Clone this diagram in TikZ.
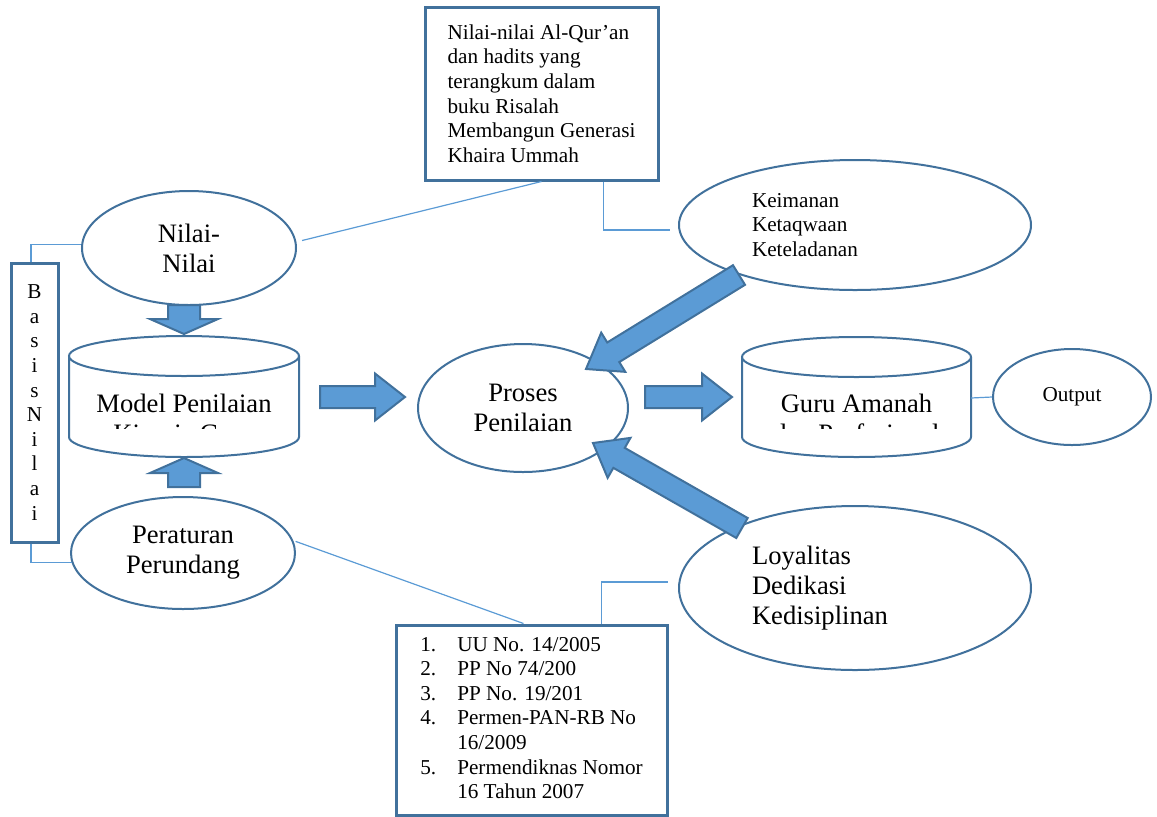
\documentclass[tikz,border=0pt]{standalone}
\usepackage{fontspec}
\setmainfont{Liberation Serif}
\usetikzlibrary{calc,shapes.geometric}
\definecolor{wblue}{RGB}{65,113,156}
\definecolor{wfill}{RGB}{91,155,213}
\definecolor{wline}{RGB}{91,155,213}
\newcommand\bigtxt{\fontsize{13.3}{15}\selectfont}
\newcommand\smalltxt{\fontsize{10.6}{12.3}\selectfont}
% tail, tip, shaft half width, head half width, head length
\newcommand\fatarrow[5]{%
  \coordinate (fah) at ($(#2)!#5!(#1)$);
  \path[fat] ($(#1)!#3!90:(#2)$) -- ($(fah)!#3!90:(#2)$) -- ($(fah)!#4!90:(#2)$)
    -- (#2) -- ($(fah)!#4!-90:(#2)$) -- ($(fah)!#3!-90:(#2)$) -- ($(#1)!#3!-90:(#2)$) -- cycle;}
\tikzset{
  oval/.style  ={ellipse, draw=wblue, line width=1pt, fill=white, inner sep=0pt,
                 align=center, font=\bigtxt},
  txtbox/.style={rectangle, draw=wblue, line width=1.5pt, fill=white, inner sep=0pt,
                 align=left, font=\smalltxt},
  cyl/.style   ={draw=wblue, line width=1pt, fill=white},
  ln/.style    ={draw=wline, line width=0.6pt},
  fat/.style   ={draw=wblue, line width=1pt, fill=wfill, line join=miter}
}
\begin{document}
\begin{tikzpicture}[x=0.5pt, y=-0.5pt]
\useasboundingbox (0,0) rectangle (1157,816);

% sources of the values
\node[txtbox, minimum width=116.5pt, minimum height=86.5pt] (quran) at (541.5,93.5)
  {Nilai-nilai Al-Qur’an\\dan hadits yang\\terangkum dalam\\buku Risalah\\
   Membangun Generasi\\Khaira Ummah};
\node[oval, minimum width=107pt, minimum height=57pt] (nilai) at (189,248) {Nilai-\\Nilai};
\node[oval, minimum width=112pt, minimum height=56pt] (aturan) at (183,553) {Peraturan\\Perundang};
\node[txtbox, align=center, minimum width=23.5pt, minimum height=139.5pt] (basis) at (34.5,402.5)
  {B\\a\\s\\i\\s\\N\\i\\l\\a\\i};
\node[txtbox, minimum width=135.5pt, minimum height=95pt] (law) at (531.5,720)
  {\begin{tabular}{@{}p{18.5pt}@{}l@{}}
   1. & UU No. 14/2005\\
   2. & PP No 74/200\\
   3. & PP No. 19/201\\
   4. & Permen-PAN-RB No\\
      & 16/2009\\
   5. & Permendiknas Nomor\\
      & 16 Tahun 2007
   \end{tabular}};

% cylinders
\draw[cyl] (69,356) -- (69,437) arc[start angle=180, end angle=360, x radius=57.5pt, y radius=10pt] -- (299,356);
\draw[cyl] (184,356) ellipse [x radius=57.5pt, y radius=10pt];
\begin{scope}
  \clip (69,377) rectangle (299,428);
  \node[font=\bigtxt, align=center, anchor=base, inner sep=0pt] (model) at (184,442)
    {Model Penilaian\\Kinerja Guru};
\end{scope}
\draw[cyl] (742,357) -- (742,437) arc[start angle=180, end angle=360, x radius=57.25pt, y radius=10pt] -- (971,357);
\draw[cyl] (856.5,357) ellipse [x radius=57.25pt, y radius=10pt];
\begin{scope}
  \clip (742,377) rectangle (971,428);
  \node[font=\bigtxt, align=center, anchor=base, inner sep=0pt] (guru) at (856.5,442)
    {Guru Amanah\\dan Profesional};
\end{scope}
\coordinate (guruR) at (971,398);

% process and outcome
\node[oval, minimum width=105pt, minimum height=64pt] (proses) at (523,408) {Proses\\Penilaian};
\node[oval, font=\smalltxt, text width=103pt, align=left, minimum width=176pt, minimum height=65pt]
  (iman) at (855,225) {Keimanan\\Ketaqwaan\\Keteladanan};
\node[oval, text width=103pt, align=left, minimum width=176pt, minimum height=82pt]
  (loyal) at (855,588) {Loyalitas\\Dedikasi\\Kedisiplinan};
\node[oval, font=\smalltxt, minimum width=79pt, minimum height=48pt] (output) at (1072,397) {Output};

% thin links
\draw[ln] ([xshift=-1.75pt]basis.north) |- (nilai.178);
\draw[ln] ([xshift=-1.75pt]basis.south) |- (aturan.185);
\draw[ln] ([xshift=3pt]nilai.4) -- (quran.south);
\draw[ln] ([xshift=31pt]quran.south) |- ([xshift=-4pt,yshift=-2.5pt]iman.west);
\draw[ln] ([xshift=1pt]aturan.6) -- ([xshift=-4pt]law.north);
\draw[ln] ([xshift=35pt]law.north) |- ([xshift=-5pt,yshift=3pt]loyal.west);
\draw[ln] (guruR) -- (output.west);

% block arrows
\coordinate (dn1) at (184,305);  \coordinate (dn2) at (184,334);
\coordinate (up1) at (184,487);  \coordinate (up2) at (184,458);
\coordinate (r1a) at (320,397);  \coordinate (r1b) at (405,397);
\coordinate (r2a) at (645,397);  \coordinate (r2b) at (732,397);
\coordinate (d1a) at (739,275);  \coordinate (d1b) at (586,369);
\coordinate (d2a) at (742,528);  \coordinate (d2b) at (593,443);
\fatarrow{dn1}{dn2}{8pt}{17pt}{7.5pt}
\fatarrow{up1}{up2}{8pt}{17pt}{7.5pt}
\fatarrow{r1a}{r1b}{5.5pt}{11.75pt}{15pt}
\fatarrow{r2a}{r2b}{5.5pt}{11.75pt}{15pt}
\fatarrow{d1a}{d1b}{5.75pt}{11.5pt}{16pt}
\fatarrow{d2a}{d2b}{5.75pt}{11.5pt}{15pt}
\end{tikzpicture}
\end{document}
